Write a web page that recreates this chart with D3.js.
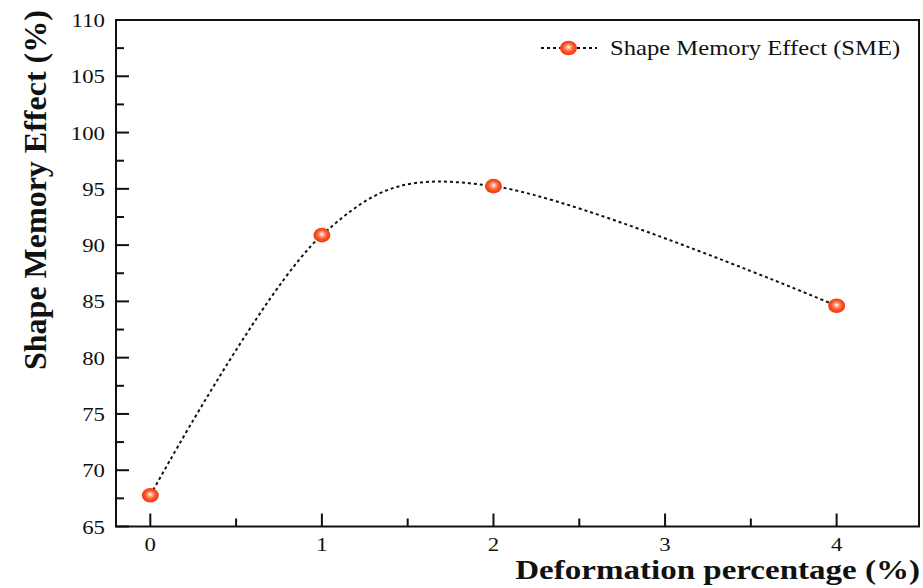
<!DOCTYPE html>
<html>
<head>
<meta charset="utf-8">
<script src="https://cdn.jsdelivr.net/npm/d3@7"></script>
<style>
body { margin: 0; background: #fff; }
text { font-family: "Liberation Serif", "Times New Roman", serif; fill: #111; }
</style>
</head>
<body>
<svg id="chart" width="923" height="588"></svg>
<script>
var deformation = [0, 1, 2, 4];
var smeValues = [67.77, 90.89, 95.24, 84.61];
var yTicks = [65, 70, 75, 80, 85, 90, 95, 100, 105, 110];
var xTicks = [0, 1, 2, 3, 4];
var seriesName = "Shape Memory Effect (SME)";

var svg = d3.select("#chart");
var plotLeft = 116, plotRight = 919, plotTop = 20, plotBottom = 526.5;
var STRETCH = 1.17; // the source picture has horizontally widened text

var x = d3.scaleLinear().domain([-0.2, 4.48]).range([plotLeft, plotRight]);
var y = d3.scaleLinear().domain([65, 110]).range([plotBottom, plotTop]);

// gradient for the ball markers
var defs = svg.append("defs");
var grad = defs.append("radialGradient")
	.attr("id", "ball")
	.attr("cx", "50%").attr("cy", "50%").attr("r", "55%")
	.attr("fx", "50%").attr("fy", "42%");
grad.append("stop").attr("offset", "0%").attr("stop-color", "#ffffff");
grad.append("stop").attr("offset", "22%").attr("stop-color", "#ffb095");
grad.append("stop").attr("offset", "55%").attr("stop-color", "#ff5526");
grad.append("stop").attr("offset", "100%").attr("stop-color", "#e4350c");

function stretchedText(px, py, sx) {
	return "translate(" + px + "," + py + ") scale(" + sx + ",1)";
}

// frame
svg.append("rect")
	.attr("x", plotLeft).attr("y", plotTop)
	.attr("width", plotRight - plotLeft).attr("height", plotBottom - plotTop)
	.attr("fill", "none").attr("stroke", "#111").attr("stroke-width", 2);

// y ticks
var yMinor = d3.range(67.5, 110, 5);
svg.selectAll(".ymaj").data(yTicks).enter().append("line")
	.attr("x1", plotLeft).attr("x2", plotLeft + 13)
	.attr("y1", function(d) { return y(d); }).attr("y2", function(d) { return y(d); })
	.attr("stroke", "#111").attr("stroke-width", 2);
svg.selectAll(".ymin").data(yMinor).enter().append("line")
	.attr("x1", plotLeft).attr("x2", plotLeft + 8)
	.attr("y1", function(d) { return y(d); }).attr("y2", function(d) { return y(d); })
	.attr("stroke", "#111").attr("stroke-width", 2);
svg.selectAll(".ylab").data(yTicks).enter().append("text")
	.attr("transform", function(d) { return stretchedText(plotLeft - 11, y(d) + 7, STRETCH); })
	.attr("text-anchor", "end").attr("font-size", 19.5)
	.text(function(d) { return d; });

// x ticks
var xMinor = d3.range(0.5, 4.5, 1);
svg.selectAll(".xmaj").data(xTicks).enter().append("line")
	.attr("x1", function(d) { return x(d); }).attr("x2", function(d) { return x(d); })
	.attr("y1", plotBottom).attr("y2", plotBottom - 13)
	.attr("stroke", "#111").attr("stroke-width", 2);
svg.selectAll(".xmin").data(xMinor).enter().append("line")
	.attr("x1", function(d) { return x(d); }).attr("x2", function(d) { return x(d); })
	.attr("y1", plotBottom).attr("y2", plotBottom - 8)
	.attr("stroke", "#111").attr("stroke-width", 2);
svg.selectAll(".xlab").data(xTicks).enter().append("text")
	.attr("transform", function(d) { return stretchedText(x(d), 551, STRETCH); })
	.attr("text-anchor", "middle").attr("font-size", 19.5)
	.text(function(d) { return d; });

// axis titles
svg.append("text")
	.attr("transform", stretchedText(920, 579, 1.18))
	.attr("text-anchor", "end").attr("font-size", 28).attr("font-weight", "bold")
	.text("Deformation percentage (%)");
svg.append("text")
	.attr("transform", "translate(46,370) rotate(-90)")
	.attr("text-anchor", "start").attr("font-size", 32).attr("font-weight", "bold")
	.text("Shape Memory Effect (%)");

// curve (uniform Catmull-Rom through the points)
var pts = deformation.map(function(d, i) { return [d, smeValues[i]]; });
var line = d3.line()
	.x(function(d) { return x(d[0]); })
	.y(function(d) { return y(d[1]); })
	.curve(d3.curveCardinal.tension(0));
svg.append("path")
	.attr("d", line(pts))
	.attr("fill", "none").attr("stroke", "#111")
	.attr("stroke-width", 2).attr("stroke-dasharray", "3,3");

svg.selectAll(".pt").data(pts).enter().append("ellipse")
	.attr("cx", function(d) { return x(d[0]); })
	.attr("cy", function(d) { return y(d[1]); })
	.attr("rx", 8.5).attr("ry", 7.3)
	.attr("fill", "url(#ball)");

// legend
var ly = 48;
svg.append("line")
	.attr("x1", 541).attr("x2", 597).attr("y1", ly).attr("y2", ly)
	.attr("stroke", "#111").attr("stroke-width", 2).attr("stroke-dasharray", "3,3");
svg.append("ellipse")
	.attr("cx", 568.5).attr("cy", ly).attr("rx", 8.5).attr("ry", 7.3)
	.attr("fill", "url(#ball)");
svg.append("text")
	.attr("transform", stretchedText(610, 55, 1.12))
	.attr("font-size", 22)
	.text(seriesName);
</script>
</body>
</html>
